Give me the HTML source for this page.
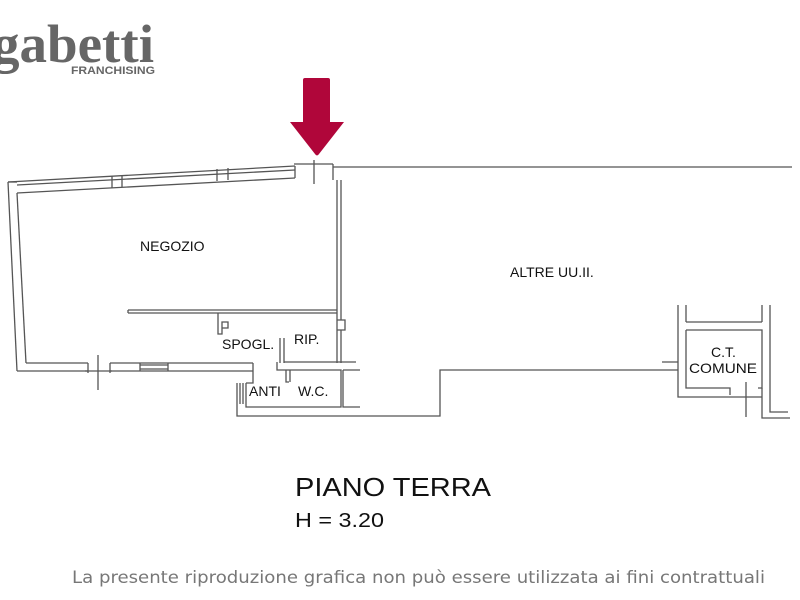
<!DOCTYPE html>
<html><head><meta charset="utf-8"><style>html,body{margin:0;padding:0;background:#fff}svg{display:block}</style></head>
<body>
<svg width="800" height="600" viewBox="0 0 800 600" xmlns="http://www.w3.org/2000/svg">
<g font-family="Liberation Serif, serif" fill="#666">
<text x="-8" y="62" font-size="54" font-weight="bold" textLength="162" lengthAdjust="spacingAndGlyphs">gabetti</text>
<text x="71" y="74" font-family="Liberation Sans, sans-serif" font-size="11" font-weight="bold" textLength="84" lengthAdjust="spacingAndGlyphs">FRANCHISING</text>
</g>
<path d="M305 78 H328 Q330 78 330 80 V122 H344 L319 154 Q317 157 315 154 L290 122 H303 V80 Q303 78 305 78 Z" fill="#b0063a"/>
<g stroke="#555" stroke-width="1.3" fill="none">
<path d="M8 182 L295 166"/>
<path d="M17 193 L295 178"/>
<path d="M17 185 L295 170"/>
<line x1="295" y1="166" x2="295" y2="178"/>
<line x1="112" y1="176" x2="112" y2="188"/><line x1="122" y1="176" x2="122" y2="187"/>
<line x1="217" y1="169" x2="217" y2="181"/><line x1="228" y1="168" x2="228" y2="180"/>
<line x1="294" y1="164" x2="333" y2="164"/>
<line x1="314" y1="160" x2="314" y2="184"/>
<line x1="333" y1="167" x2="792" y2="167"/>
<line x1="333" y1="164" x2="333" y2="180"/>
<path d="M8 182 L17 371"/><path d="M17 193 L26 363"/>
<line x1="8" y1="182" x2="17" y2="182"/>
<path d="M17 371 H88 M26 363 H88"/>
<line x1="85" y1="371" x2="112" y2="371"/><line x1="98" y1="355" x2="98" y2="390"/>
<path d="M110 371 H253 M110 363 H253 M88 363 V373 M110 363 V373"/>
<path d="M140 365 H168 M140 369 H168 M140 363 V371 M168 363 V371"/>
<path d="M253 363 V383 H246 M237 383 V416 H440 V370 H678"/>
<path d="M246 383 V407 H290 M240 383 V404 M243 383 V404"/>
<path d="M337 180 V363 M341 180 V320 M341 330 V363 M337 320 H345 V330 H337"/>
<path d="M128 310 H337 M128 313 H337 M128 310 V313"/>
<path d="M218 313 V334 H222 V322 H228 V328 H222"/>
<path d="M280 338 V363 M284 338 V363 M284 362 H356"/>
<path d="M277 362 V370 H290 M290 370 H341 V407 H290 M286 370 V382 H289 M290 370 V382"/>
<path d="M343 370 V407 H360 M343 370 H360"/>
<path d="M678 305 V397 H730 M686 330 V388 H730 V395 M686 330 H762 V388 H758 M686 322 H762 M686 305 V322 M762 305 V322"/>
<path d="M770 305 V412 H788 M762 388 V418 H790 M662 362 H678"/>
<path d="M730 397 H762 M746 382 V417"/>
</g>
<g font-family="Liberation Sans, sans-serif" fill="#111" font-size="14">
<text x="140" y="251">NEGOZIO</text>
<text x="510" y="277">ALTRE UU.II.</text>
<text x="222" y="349">SPOGL.</text>
<text x="294" y="344">RIP.</text>
<text x="249" y="396">ANTI</text>
<text x="298" y="396">W.C.</text>
<text x="711" y="357">C.T.</text>
<text x="689" y="373" textLength="68" lengthAdjust="spacingAndGlyphs">COMUNE</text>
<text x="295" y="496" font-size="26" textLength="196" lengthAdjust="spacingAndGlyphs">PIANO TERRA</text>
<text x="295" y="527" font-size="20" textLength="89" lengthAdjust="spacingAndGlyphs">H = 3.20</text>
</g>
<text x="72" y="583" font-family="DejaVu Sans, sans-serif" font-size="17" fill="#777" textLength="693" lengthAdjust="spacingAndGlyphs">La presente riproduzione grafica non può essere utilizzata ai fini contrattuali</text>
</svg>
</body></html>
